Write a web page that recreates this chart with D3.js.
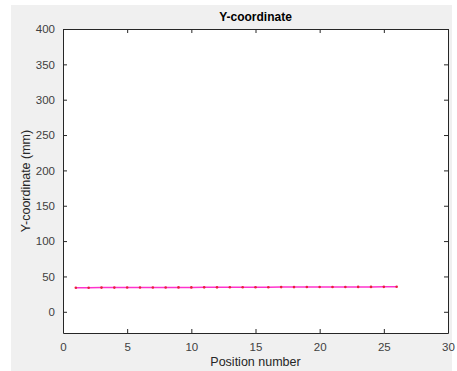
<!DOCTYPE html>
<html>
<head>
<meta charset="utf-8">
<script src="https://cdn.jsdelivr.net/npm/d3@7"></script>
<style>
  body { margin: 0; background: #fff; }
  text { font-family: "Liberation Sans", Arial, sans-serif; }
</style>
</head>
<body>
<script>
/* ------------------------------- chart data ------------------------------- */
const positions = d3.range(1, 27);
const yCoords = [34.0, 34.1, 34.2, 34.2, 34.3, 34.3, 34.4, 34.4, 34.5, 34.5, 34.6, 34.6, 34.7,
                 34.7, 34.8, 34.8, 34.9, 34.9, 35.0, 35.0, 35.1, 35.1, 35.2, 35.2, 35.3, 35.4];
const xTicks = [0, 5, 10, 15, 20, 25, 30];
const yTicks = [0, 50, 100, 150, 200, 250, 300, 350, 400];

/* ------------------------------ document size ----------------------------- */
const width = 457, height = 371;
const m = { left: 63, right: 448, top: 29, bottom: 333 };

const svg = d3.select("body").append("svg")
    .attr("width", width)
    .attr("height", height);

// figure background
svg.append("rect")
    .attr("x", 11).attr("y", 5)
    .attr("width", 441).attr("height", 366)
    .attr("fill", "#f0f0f0");

const x = d3.scaleLinear().domain([0, 30]).range([m.left, m.right]);
const y = d3.scaleLinear().domain([-30, 400]).range([m.bottom, m.top]);

// axes area
svg.append("rect")
    .attr("x", m.left).attr("y", m.top)
    .attr("width", m.right - m.left).attr("height", m.bottom - m.top)
    .attr("fill", "#fff");

const axisColor = "#262626";
const tl = 4;

const gx = svg.append("g").attr("transform", "translate(0," + m.bottom + ")")
    .call(d3.axisBottom(x).tickValues(xTicks).tickSizeInner(-tl).tickSizeOuter(0).tickPadding(10));
const gxTop = svg.append("g").attr("transform", "translate(0," + m.top + ")")
    .call(d3.axisTop(x).tickValues(xTicks).tickSizeInner(-tl).tickSizeOuter(0).tickFormat(""));
const gy = svg.append("g").attr("transform", "translate(" + m.left + ",0)")
    .call(d3.axisLeft(y).tickValues(yTicks).tickSizeInner(-tl).tickSizeOuter(0).tickPadding(8));
const gyRight = svg.append("g").attr("transform", "translate(" + m.right + ",0)")
    .call(d3.axisRight(y).tickValues(yTicks).tickSizeInner(-tl).tickSizeOuter(0).tickFormat(""));

[gx, gxTop, gy, gyRight].forEach(g => {
    g.select(".domain").attr("stroke", axisColor).attr("stroke-width", 1);
    g.selectAll(".tick line").attr("stroke", axisColor);
    g.selectAll(".tick text").attr("fill", "#404040").style("font-size", "11.5px");
});

/* --------------------------------- series --------------------------------- */
const line = d3.line()
    .x((d, i) => x(positions[i]))
    .y(d => y(d));

svg.append("path")
    .datum(yCoords)
    .attr("d", line)
    .attr("fill", "none")
    .attr("stroke", "#ff33cc")
    .attr("stroke-width", 1.5);

svg.selectAll(".dot").data(yCoords).enter().append("circle")
    .attr("class", "dot")
    .attr("cx", (d, i) => x(positions[i]))
    .attr("cy", d => y(d))
    .attr("r", 1.3)
    .attr("fill", "#e8203c");

/* --------------------------------- labels --------------------------------- */
svg.append("text")
    .attr("x", (m.left + m.right) / 2).attr("y", 21)
    .attr("text-anchor", "middle")
    .style("font-size", "12px").style("font-weight", "bold")
    .attr("fill", "#000")
    .text("Y-coordinate");

svg.append("text")
    .attr("x", (m.left + m.right) / 2).attr("y", 366)
    .attr("text-anchor", "middle")
    .style("font-size", "12.5px")
    .attr("fill", "#262626")
    .text("Position number");

svg.append("text")
    .attr("transform", "translate(30," + (m.top + m.bottom) / 2 + ") rotate(-90)")
    .attr("text-anchor", "middle")
    .style("font-size", "12.5px")
    .attr("fill", "#262626")
    .text("Y-coordinate (mm)");
</script>
</body>
</html>
